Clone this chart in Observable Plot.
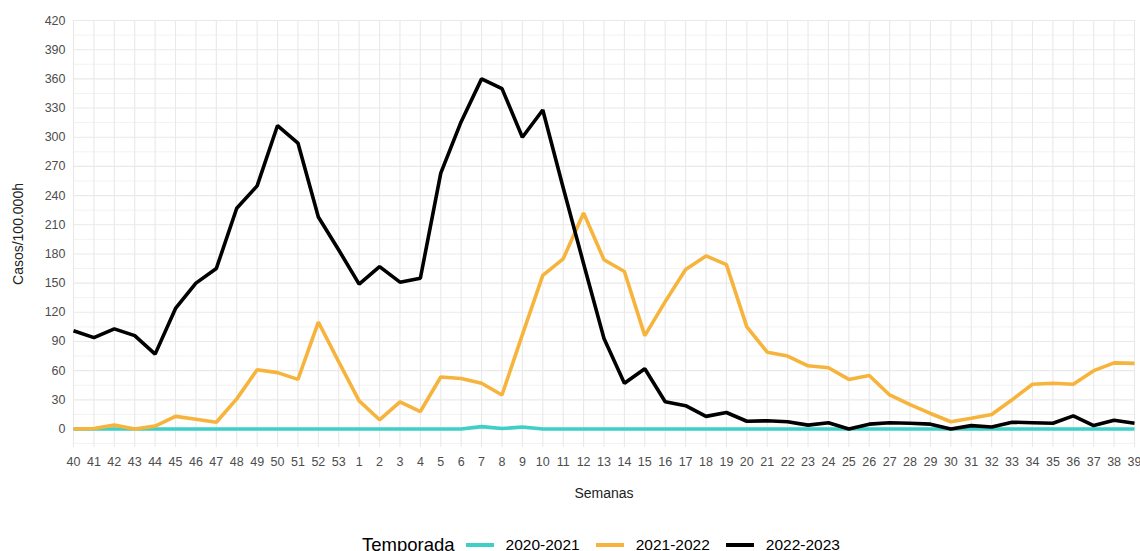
<!DOCTYPE html>
<html>
<head>
<meta charset="utf-8">
<script src="https://cdn.jsdelivr.net/npm/d3@7"></script>
<script src="https://cdn.jsdelivr.net/npm/@observablehq/plot@0.6"></script>
<style>
  body { margin: 0; background: #fff; font-family: "Liberation Sans", Arial, sans-serif; }
  #legend { height: 30px; display: flex; align-items: center; margin-left: 362px; color: #000; }
  #legend .title { font-size: 18.5px; margin-right: 11px; }
  #legend .sw { display: inline-block; width: 28px; height: 4px; margin-right: 12px; }
  #legend .lab { font-size: 15.5px; margin-right: 16px; }
</style>
</head>
<body>
<div id="chart"></div>
<div id="legend"></div>
<script>
const weeks = ["40","41","42","43","44","45","46","47","48","49","50","51","52","53",
  "1","2","3","4","5","6","7","8","9","10","11","12","13","14","15","16","17","18","19","20",
  "21","22","23","24","25","26","27","28","29","30","31","32","33","34","35","36","37","38","39"];

const seasons = ["2020-2021", "2021-2022", "2022-2023"];
const seasonColors = ["#3ECFC7", "#F6B43C", "#000000"];

const s2020 = [0,0,0,0,0,0,0,0,0,0,0,0,0,0,
  0,0,0,0,0,0,2.5,0.5,2,0,0,0,0,0,0,0,0,0,0,0,
  0,0,0,0,0,0,0,0,0,0,0,0,0,0,0,0,0,0,0];

const s2021 = [0,0.5,4,0,3,13,10,7,31,61,58,51,110,69,
  29,9.5,28,18,53.5,52,47,35,97,158,175,222,174,162,96,131,164,178,169,105,
  79,75,65,63,51,55,35,25,16,7.5,11,15,30,46,47,46,60,68,67.5];

const s2022 = [101,94,103,96,77,124,150,165,227,250,312,294,218,184,
  149,167,151,155,263,316,360,350,300,328,248,170,93,47,62,28,24,13,17,8,
  8.5,7.5,4,6.5,0,5,6.5,6,5,0,3.5,2,7,6.5,6,13.5,3.5,9,6];

const yTicks = d3.range(0, 421, 30);
const yMinor = d3.range(-15, 420, 30);

const seriesValues = [s2020, s2021, s2022];
const rows = seasons.flatMap((s, k) => weeks.map((w, i) => ({season: s, idx: i, week: w, value: seriesValues[k][i]})));
const xTicks = weeks.map((w, i) => i);

const chart = Plot.plot({
  width: 1140,
  height: 530,
  marginLeft: 73,
  marginRight: 6,
  marginTop: 20,
  marginBottom: 83,
  style: {fontFamily: "'Liberation Sans', Arial, sans-serif", fontSize: "12.5px", background: "#fff"},
  x: {type: "linear", domain: [0, weeks.length - 1]},
  y: {domain: [-19, 420]},
  color: {domain: seasons, range: seasonColors},
  marks: [
    Plot.ruleY(yMinor, {stroke: "#f2f2f2", strokeWidth: 1}),
    Plot.ruleY(yTicks, {stroke: "#e9e9e9", strokeWidth: 1.1}),
    Plot.ruleX(xTicks, {stroke: "#e9e9e9", strokeWidth: 1.1}),
    Plot.axisY({ticks: yTicks, tickSize: 0, tickPadding: 8, fill: "#4d4d4d", fontSize: 12.5,
      label: "Casos/100.000h", labelAnchor: "center", labelArrow: "none", labelOffset: 60}),
    Plot.axisX({ticks: xTicks, tickFormat: i => weeks[i], tickSize: 0, tickPadding: 10, fill: "#4d4d4d", fontSize: 12.5,
      label: "Semanas", labelAnchor: "center", labelArrow: "none", labelOffset: 50}),
    Plot.line(rows, {x: "idx", y: "value", stroke: "season", z: "season", strokeWidth: 3.6,
      strokeLinejoin: "miter", strokeLinecap: "butt"})
  ]
});
document.getElementById("chart").appendChild(chart);

d3.select(chart).selectAll("g[aria-label='y-axis label'] text, g[aria-label='x-axis label'] text")
  .style("font-size", "14px").style("fill", "#222");

const legend = document.getElementById("legend");
const t = document.createElement("span");
t.className = "title"; t.textContent = "Temporada";
legend.appendChild(t);
seasons.forEach((s, i) => {
  const sw = document.createElement("span");
  sw.className = "sw"; sw.style.background = seasonColors[i];
  legend.appendChild(sw);
  const l = document.createElement("span");
  l.className = "lab"; l.textContent = s;
  legend.appendChild(l);
});
</script>
</body>
</html>
